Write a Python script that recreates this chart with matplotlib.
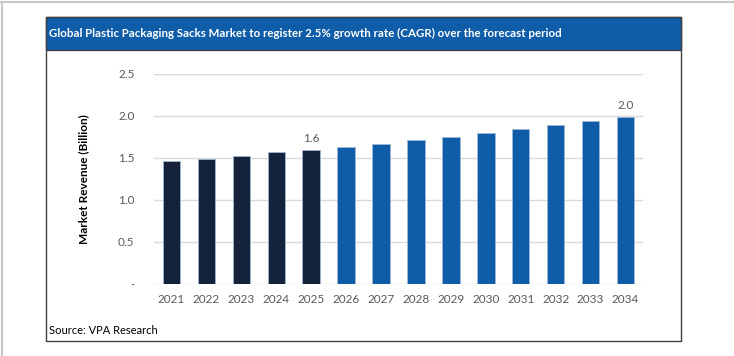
import matplotlib
matplotlib.use("Agg")
import matplotlib.pyplot as plt
from matplotlib.patches import Rectangle
from matplotlib.lines import Line2D

# data ------------------------------------------------------------
years = [str(y) for y in range(2021, 2035)]
revenue = [1.46, 1.49, 1.52, 1.57, 1.60, 1.63, 1.67, 1.71, 1.75, 1.80, 1.84, 1.89, 1.94, 1.99]
n_hist = 5  # 2021-2025 historical, rest forecast
label_text = {4: "1.6", 13: "2.0"}
yticks = [0, 0.5, 1.0, 1.5, 2.0, 2.5]
ytick_labels = ["-", "0.5", "1.0", "1.5", "2.0", "2.5"]

title = "Global Plastic Packaging Sacks Market to register 2.5% growth rate (CAGR) over the forecast period"

navy = "#14223A"
blue = "#0F5CA8"
grey_txt = "#595959"

plt.rcParams["font.family"] = ["Lato", "DejaVu Sans"]

W, H = 734, 356
fig = plt.figure(figsize=(W / 100, H / 100), dpi=100)

def fx(x): return x / W
def fy(y): return 1 - y / H

# outer frame lines
fig.add_artist(Line2D([0, 1], [fy(2), fy(2)], color="#C8C8C8", lw=1.5, zorder=-2))
fig.add_artist(Line2D([fx(2), fx(2)], [0, fy(2)], color="#C8C8C8", lw=1.5, zorder=-2))

# chart box + title bar
fig.add_artist(Rectangle((fx(46), fy(341)), fx(681) - fx(46), fy(17) - fy(341),
                         facecolor="white", edgecolor="#404040", lw=1, zorder=-2))
fig.add_artist(Rectangle((fx(46), fy(50)), fx(681) - fx(46), fy(17) - fy(50),
                         facecolor=blue, edgecolor="#404040", lw=1, zorder=-1))
fig.text(fx(49), fy(33.5), title, color="white", fontsize=8.3, fontweight="bold",
         va="center", ha="left")
fig.text(fx(49), fy(330), "Source: VPA Research", color="black", fontsize=8,
         va="center", ha="left")

ax = fig.add_axes([fx(154), fy(284), fx(643) - fx(154), fy(74) - fy(284)])
ax.set_zorder(2)
ax.patch.set_visible(False)
colors = [navy if i < n_hist else blue for i in range(len(years))]
bars = ax.bar(range(len(years)), revenue, width=0.5, color=colors,
              edgecolor="#9DB8D8", linewidth=0.6, zorder=3)
for i, t in label_text.items():
    ax.text(i, revenue[i] + 0.07, t, ha="center", va="bottom", fontsize=8.5, color=grey_txt)

ax.set_xlim(-0.5, len(years) - 0.5)
ax.set_ylim(0, 2.5)
ax.set_yticks(yticks)
ax.set_yticklabels(ytick_labels)
ax.set_xticks(range(len(years)))
ax.set_xticklabels(years)
ax.tick_params(axis="both", length=0, colors=grey_txt, labelsize=8.5)
ax.tick_params(axis="y", pad=14)
ax.tick_params(axis="x", pad=7)
ax.grid(axis="y", color="#D9D9D9", lw=1, zorder=0)
for s in ax.spines.values():
    s.set_visible(False)
ax.set_ylabel("Market Revenue (Billion)", fontsize=8.5, fontweight="bold",
              color="black", labelpad=21)

fig.savefig("out.png", dpi=100)
